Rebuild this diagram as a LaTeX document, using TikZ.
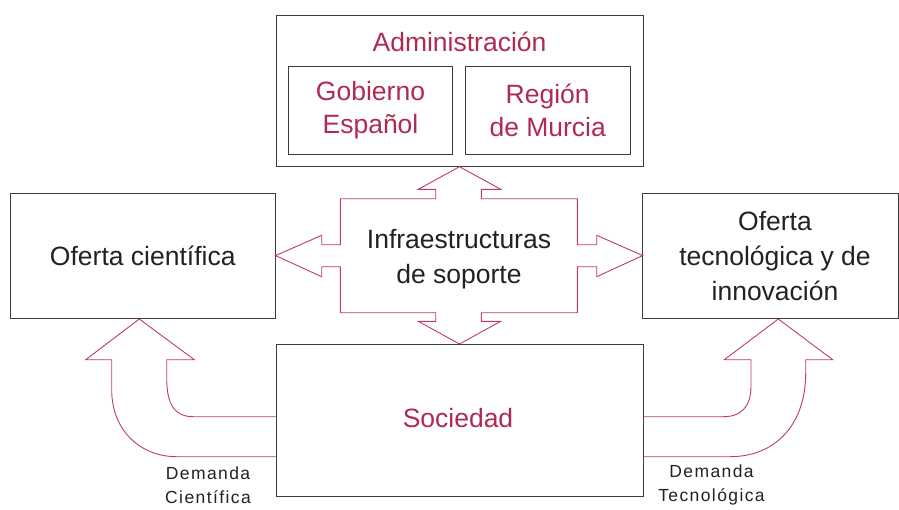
\documentclass[tikz,border=0pt]{standalone}
\usepackage{fontspec}
\setmainfont{Liberation Sans}
\newfontfamily\smallfont{Liberation Sans}[LetterSpace=8.0]
\definecolor{crim}{RGB}{176,42,80}
\definecolor{arrowred}{RGB}{190,60,95}
\definecolor{boxline}{RGB}{60,60,60}
\definecolor{txt}{RGB}{34,34,34}
\begin{document}
\begin{tikzpicture}[x=1pt,y=-1pt,
  box/.style={draw=boxline, line width=0.9pt, inner sep=0pt, outer sep=0pt},
  bigtext/.style={font=\fontsize{26.5}{35}\selectfont, text=txt, align=center},
  redtext/.style={font=\fontsize{26.5}{33}\selectfont, text=crim, align=center},
  lbltext/.style={font=\smallfont\fontsize{17.5}{24}\selectfont, text=txt, align=center},
  blockarrow/.style={draw=arrowred, line width=0.9pt, line join=miter}]
\useasboundingbox (0,0) rectangle (899,509);

% boxes
\node[box, minimum width=367pt, minimum height=151pt] (admin) at (459.5,91.2) {};
\node[box, minimum width=164.4pt, minimum height=87.6pt] (gob) at (370.5,110.5) {};
\node[box, minimum width=164.7pt, minimum height=87.6pt] (reg) at (547.7,110.5) {};
\node[box, minimum width=265.5pt, minimum height=125.3pt] (ofc) at (142.75,255.6) {};
\node[box, minimum width=255.3pt, minimum height=125.3pt] (oft) at (770.3,255.6) {};
\node[box, minimum width=367pt, minimum height=152pt] (soc) at (459.5,420) {};

% texts
\node[redtext] (admintxt) at (459.5,41.7) {Administración};
\node[redtext] (gobtxt) at (gob.center) {Gobierno\\Español};
\node[redtext] (regtxt) at (reg.center) {Región\\de Murcia};
\node[bigtext] (ofctxt) at (ofc.center) {Oferta científica};
\node[bigtext] (ofttxt) at (775,255.6) {Oferta\\tecnológica y de\\innovación};
\node[redtext] (soctxt) at (458,418) {Sociedad};
\node[bigtext] (infra) at (459,259) {Infraestructuras\\de soporte};
\node[lbltext] (demc) at (208,485) {Demanda\\Científica};
\node[lbltext] (demt) at (711.5,485) {Demanda\\Tecnológica};

% central cross arrow
\draw[blockarrow] (admin.south) -- (500.7,189.3) -- (481.3,189.3) -- (481.3,198.7)
  -- (577.3,198.7) -- (577.3,244.7) -- (596.7,244.7) -- (596.7,235.3)
  -- (oft.west) -- (596.7,276.7) -- (596.7,266.7) -- (577.3,266.7)
  -- (577.3,312.7) -- (481.3,312.7) -- (481.3,321.3) -- (500.7,321.3)
  -- (soc.north) -- (418.3,321.3) -- (435.7,321.3) -- (435.7,312.7)
  -- (340.3,312.7) -- (340.3,266.7) -- (321.7,266.7) -- (321.7,276.7)
  -- (ofc.east) -- (321.7,235.3) -- (321.7,244.7) -- (340.3,244.7)
  -- (340.3,198.7) -- (435.7,198.7) -- (435.7,189.3) -- (418.3,189.3) -- cycle;

% left curved arrow
\draw[blockarrow] (275.5,416.7) -- (193.3,416.7)
  .. controls (175,416.7) and (166.7,405) .. (166.7,378)
  -- (166.7,359.7) -- (194.3,359.7) -- (139.3,319) -- (85.7,359.7) -- (111.7,359.7)
  -- (111.7,390) .. controls (111.7,430) and (140,456.7) .. (176.7,456.7)
  -- (275.5,456.7);

% right curved arrow
\draw[blockarrow] (643.5,416.7) -- (723.3,416.7)
  .. controls (740,416.7) and (751,408) .. (751,386)
  -- (751,359.7) -- (724.3,359.7) -- (778.3,319) -- (832.7,359.7) -- (805.7,359.7)
  -- (805.7,373) .. controls (805.7,425) and (775,456.7) .. (730,456.7)
  -- (643.5,456.7);
\end{tikzpicture}
\end{document}
